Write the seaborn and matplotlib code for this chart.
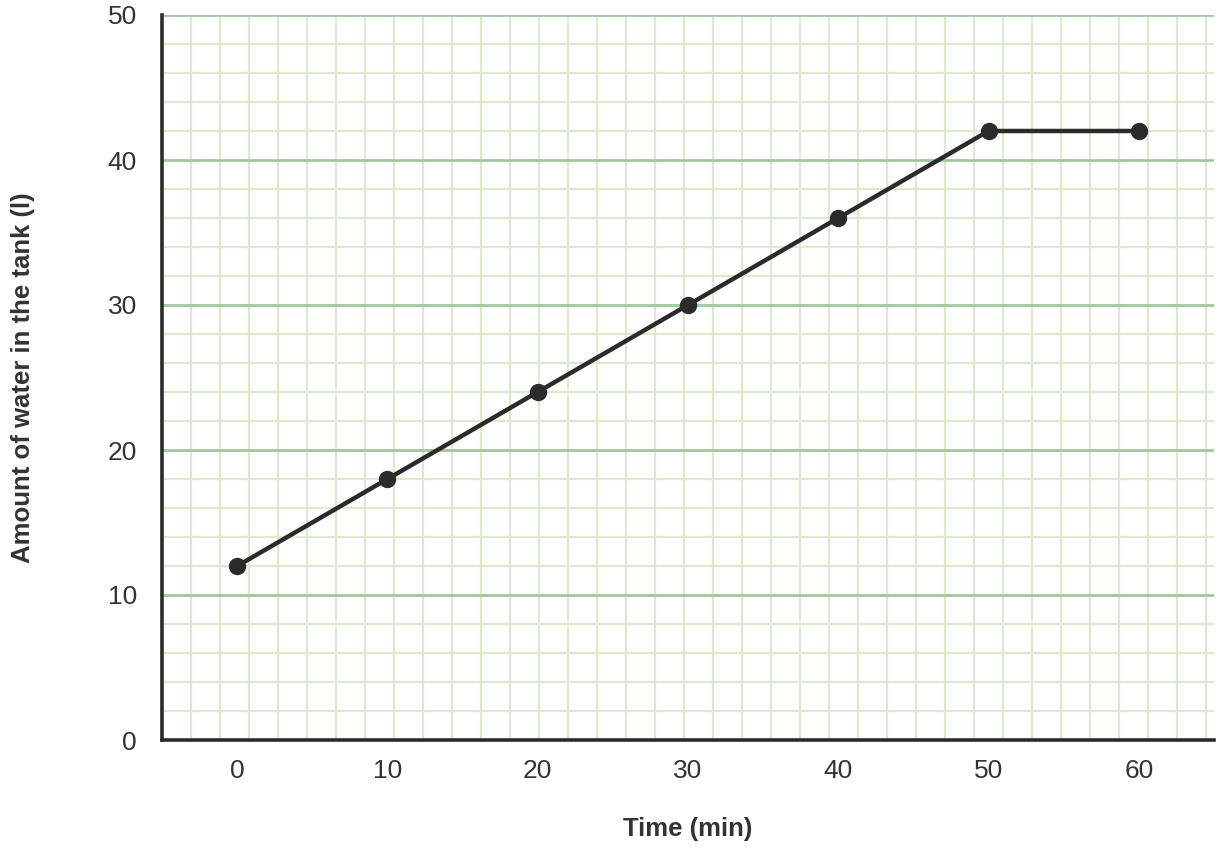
import numpy as np
import pandas as pd
import matplotlib
matplotlib.use("Agg")
import matplotlib.pyplot as plt
import seaborn as sns

# data
time_min = [0, 10, 20, 30, 40, 50, 60]
water_l = [12, 18, 24, 30, 36, 42, 42]
x_ticks = [0, 10, 20, 30, 40, 50, 60]
y_ticks = [0, 10, 20, 30, 40, 50]

df = pd.DataFrame({"Time (min)": time_min, "Water": water_l})

sns.set_theme(style="white")
plt.rcParams["font.family"] = ["Liberation Sans", "DejaVu Sans"]

TEXT = "#333333"
DARK = "#2b2b2b"
MAJOR_GRID = "#a2c79f"
MINOR_GRID = "#dceacd"

fig = plt.figure(figsize=(12.2, 8.47), dpi=100)
ax = fig.add_axes([162 / 1220, 1 - 740 / 847, (1214 - 162) / 1220, (740 - 15) / 847])

sns.lineplot(data=df, x="Time (min)", y="Water", ax=ax, color=DARK,
             linewidth=3.2, marker="o", markersize=12.5, markeredgewidth=0,
             zorder=5)

ax.set_xlim(-5, 65)
ax.set_ylim(0, 50)
ax.set_xticks(x_ticks)
ax.set_yticks(y_ticks)
ax.set_yticks(np.arange(0, 51, 2), minor=True)

# square graph-paper cells: vertical spacing matches 2 y-units in pixels
bbox = ax.get_window_extent()
px_x = bbox.width / 70
px_y = bbox.height / 50
cell = 2 * px_y / px_x
ax.set_xticks(np.arange(-5 + cell, 65, cell), minor=True)

ax.grid(which="major", axis="y", color=MAJOR_GRID, linewidth=2)
ax.grid(which="minor", axis="y", color=MINOR_GRID, linewidth=1.6)
ax.grid(which="minor", axis="x", color=MINOR_GRID, linewidth=1.6)
ax.grid(which="major", axis="x", visible=False)
ax.set_axisbelow(True)

for side in ["top", "right"]:
    ax.spines[side].set_visible(False)
for side in ["left", "bottom"]:
    ax.spines[side].set_color(DARK)
    ax.spines[side].set_linewidth(2.6)
    ax.spines[side].set_zorder(6)

ax.tick_params(which="both", length=0)
ax.tick_params(axis="x", labelsize=19, colors=TEXT, pad=14)
ax.tick_params(axis="y", labelsize=19, colors=TEXT, pad=18)

ax.set_xlabel("Time (min)", fontsize=18.5, fontweight="bold", color=TEXT, labelpad=24)
ax.set_ylabel("Amount of water in the tank (l)", fontsize=18.5, fontweight="bold",
              color=TEXT, labelpad=52)

fig.savefig("out.png", dpi=100)
